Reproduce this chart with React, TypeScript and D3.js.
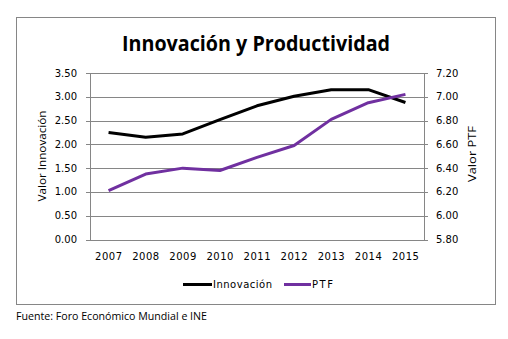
import React from "react";
import * as d3 from "d3";

const years = ["2007", "2008", "2009", "2010", "2011", "2012", "2013", "2014", "2015"];
const innovacion = [2.25, 2.15, 2.22, 2.52, 2.81, 3.01, 3.15, 3.15, 2.88];
const ptf = [6.21, 6.35, 6.4, 6.38, 6.49, 6.59, 6.81, 6.95, 7.02];
const leftTicks = [0, 0.5, 1, 1.5, 2, 2.5, 3, 3.5];
const rightTicks = [5.8, 6.0, 6.2, 6.4, 6.6, 6.8, 7.0, 7.2];

const W = 508, H = 339;
const plot = { l: 90, r: 424, t: 73, b: 239.5 };
const GRAY = "#868686";
const PURPLE = "#7030A0";
const tickFont = "'DejaVu Sans', Verdana, sans-serif";
const labelFont = "'Open Sans', 'Liberation Sans', sans-serif";

export default function App() {
  const x = d3.scaleBand<string>().domain(years).range([plot.l, plot.r]);
  const yL = d3.scaleLinear().domain([0, 3.5]).range([plot.b, plot.t]);
  const yR = d3.scaleLinear().domain([5.8, 7.2]).range([plot.b, plot.t]);
  const cx = (d: string) => (x(d) ?? 0) + x.bandwidth() / 2;
  const lineL = d3.line<number>().x((_, i) => cx(years[i])).y((v) => yL(v));
  const lineR = d3.line<number>().x((_, i) => cx(years[i])).y((v) => yR(v));

  return (
    <svg width={W} height={H} style={{ position: "absolute", left: 0, top: 0, background: "#fff" }}>
      <rect x={0} y={0} width={W} height={H} fill="#fff" />
      <rect x={16.5} y={17.5} width={479} height={287} fill="#fff" stroke={GRAY} strokeWidth={1} />
      <text x={256} y={51} textAnchor="middle" fontFamily={labelFont} fontWeight="bold" fontSize={21}
        textLength={268} lengthAdjust="spacingAndGlyphs" fill="#000">Innovación y Productividad</text>

      {leftTicks.map((t) => (
        <g key={"gl" + t}>
          <line x1={plot.l} x2={plot.r} y1={Math.round(yL(t)) + 0.5} y2={Math.round(yL(t)) + 0.5} stroke={GRAY} strokeWidth={1} />
          <line x1={plot.l - 4} x2={plot.l} y1={Math.round(yL(t)) + 0.5} y2={Math.round(yL(t)) + 0.5} stroke={GRAY} strokeWidth={1} />
          <text x={77} y={yL(t) + 3.5} textAnchor="end" fontFamily={tickFont} fontSize={10} fill="#000">{t.toFixed(2)}</text>
        </g>
      ))}
      {rightTicks.map((t) => (
        <g key={"gr" + t}>
          <line x1={plot.r} x2={plot.r + 4} y1={Math.round(yR(t)) + 0.5} y2={Math.round(yR(t)) + 0.5} stroke={GRAY} strokeWidth={1} />
          <text x={436} y={yR(t) + 3.5} textAnchor="start" fontFamily={tickFont} fontSize={10} fill="#000">{t.toFixed(2)}</text>
        </g>
      ))}
      <line x1={plot.l + 0.5} x2={plot.l + 0.5} y1={plot.t} y2={plot.b + 0.5} stroke={GRAY} />
      <line x1={plot.r + 0.5} x2={plot.r + 0.5} y1={plot.t} y2={plot.b + 0.5} stroke={GRAY} />
      {years.map((yr) => (
        <text key={yr} x={cx(yr)} y={260} textAnchor="middle" fontFamily={tickFont} fontSize={10}
          textLength={27} lengthAdjust="spacing" fill="#000">{yr}</text>
      ))}

      <text transform={`translate(46,156) rotate(-90)`} textAnchor="middle" fontFamily={labelFont} fontSize={11}
        textLength={91} lengthAdjust="spacingAndGlyphs" fill="#000">Valor Innovación</text>
      <text transform={`translate(476,154) rotate(-90)`} textAnchor="middle" fontFamily={labelFont} fontSize={11}
        textLength={56} lengthAdjust="spacingAndGlyphs" fill="#000">Valor PTF</text>

      <path d={lineL(innovacion) ?? ""} fill="none" stroke="#000" strokeWidth={3} strokeLinejoin="round" />
      <path d={lineR(ptf) ?? ""} fill="none" stroke={PURPLE} strokeWidth={3} strokeLinejoin="round" />

      <line x1={183} x2={212} y1={284.5} y2={284.5} stroke="#000" strokeWidth={3} />
      <text x={213} y={288} fontFamily={tickFont} fontSize={10} textLength={59} lengthAdjust="spacing" fill="#000">Innovación</text>
      <line x1={284} x2={311} y1={284.5} y2={284.5} stroke={PURPLE} strokeWidth={3} />
      <text x={312} y={288} fontFamily={tickFont} fontSize={10} textLength={21} lengthAdjust="spacing" fill="#000">PTF</text>

      <text x={16} y={320} fontFamily={labelFont} fontSize={11} textLength={191} lengthAdjust="spacingAndGlyphs" fill="#000">
        Fuente: Foro Económico Mundial e INE
      </text>
    </svg>
  );
}
